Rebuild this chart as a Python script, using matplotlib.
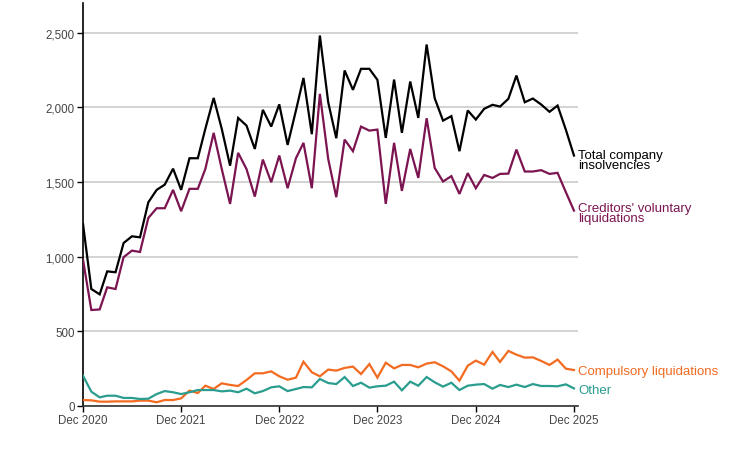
import numpy as np
import pandas as pd
import matplotlib
matplotlib.use("Agg")
import matplotlib.pyplot as plt
import matplotlib.dates as mdates

plt.rcParams['font.family'] = ['Liberation Sans', 'DejaVu Sans']

# monthly, Dec 2020 .. Dec 2025
months = pd.date_range("2020-12-01", periods=61, freq="MS")

total = [1220, 784, 748, 902, 896, 1092, 1137, 1130, 1365, 1448, 1483, 1590,
         1448, 1660, 1660, 1857, 2064, 1857, 1610, 1930, 1879, 1722, 1984, 1872,
         2021, 1749, 1980, 2198, 1821, 2482, 2035, 1794, 2248, 2118, 2259, 2259,
         2185, 1796, 2187, 1830, 2174, 1930, 2422, 2062, 1912, 1942, 1707, 1980,
         1919, 1991, 2018, 2006, 2058, 2214, 2035, 2060, 2020, 1971, 2013, 1850,
         1678]

cvl = [980, 643, 647, 795, 784, 997, 1041, 1032, 1260, 1325, 1325, 1448,
       1305, 1455, 1455, 1588, 1830, 1588, 1354, 1696, 1588, 1403, 1651, 1499,
       1678, 1459, 1660, 1763, 1459, 2091, 1655, 1399, 1785, 1707, 1872, 1845,
       1852, 1354, 1763, 1441, 1722, 1528, 1928, 1595, 1504, 1540, 1421, 1560,
       1459, 1548, 1528, 1555, 1557, 1718, 1571, 1571, 1580, 1555, 1562, 1432,
       1309]

compulsory = [40, 38, 29, 29, 31, 31, 31, 36, 36, 25, 40, 40,
              51, 103, 87, 136, 114, 152, 141, 134, 174, 219, 219, 232,
              199, 176, 190, 297, 226, 199, 244, 237, 255, 264, 214, 281,
              190, 290, 252, 275, 275, 259, 284, 293, 266, 232, 170, 270,
              304, 277, 362, 295, 369, 344, 324, 326, 302, 275, 311, 250,
              241]

other = [203, 96, 58, 69, 69, 54, 54, 47, 49, 80, 100, 92,
         80, 92, 107, 107, 107, 98, 103, 92, 116, 85, 100, 125,
         132, 100, 114, 127, 125, 181, 154, 147, 194, 134, 156, 123,
         132, 136, 163, 105, 163, 136, 194, 159, 130, 156, 107, 136,
         143, 147, 116, 141, 127, 143, 127, 147, 134, 134, 132, 145,
         118]

names = ["Total company\ninsolvencies", "Creditors' voluntary\nliquidations",
         "Compulsory liquidations", "Other"]
colours = ["#000000", "#7b1450", "#f26b21", "#2a9d8f"]
label_offsets = [-3, -2, -1, -1]  # pt nudges for the end labels

fig = plt.figure(figsize=(7.33, 4.52), dpi=100)
ax = fig.add_axes([83/733, 45/452, 495/733, 403/452])

series = [total, cvl, compulsory, other]
for vals, col in zip(series, colours):
    ax.plot(months, vals, color=col, lw=1.6, solid_joinstyle='miter', zorder=3)

# end-of-line labels
for vals, col, name, off in zip(series, colours, names, label_offsets):
    ax.annotate(name, xy=(months[-1], vals[-1]), xytext=(3, off),
                textcoords='offset points', color=col, fontsize=9.5,
                va='center', ha='left', linespacing=0.8, annotation_clip=False)

ax.set_ylim(0, 2700)
ax.set_xlim(months[0], months[-1] + pd.Timedelta(days=15))
ax.set_yticks([0, 500, 1000, 1500, 2000, 2500])
ax.yaxis.set_major_formatter(matplotlib.ticker.FuncFormatter(lambda v, p: f"{int(v):,}"))
ax.xaxis.set_major_locator(mdates.MonthLocator(bymonth=12))
ax.xaxis.set_major_formatter(mdates.DateFormatter("%b %Y"))

ax.grid(axis='y', color='#cccccc', lw=1.2)
ax.set_axisbelow(True)
for s in ['top', 'right']:
    ax.spines[s].set_visible(False)
ax.spines['left'].set_color('#000000')
ax.spines['left'].set_linewidth(1.2)
ax.spines['bottom'].set_color('#333333')
ax.spines['bottom'].set_linewidth(1.2)
ax.tick_params(axis='both', labelsize=8.3, labelcolor='#444444', length=4, width=1, pad=2)

fig.savefig("out.png", dpi=100)
